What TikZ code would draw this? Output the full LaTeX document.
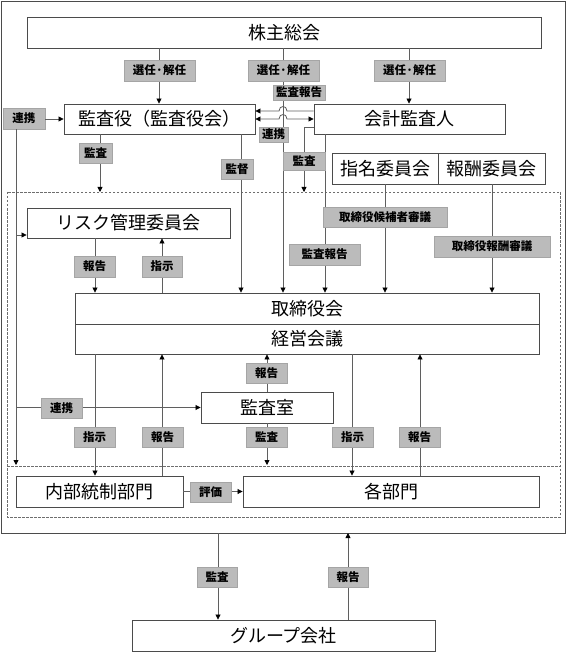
\documentclass[tikz,border=0pt]{standalone}
\usepackage{fontspec}
\setmainfont{Noto Sans CJK JP}
\usetikzlibrary{arrows.meta,calc}
\definecolor{lblfill}{RGB}{187,187,187}
\definecolor{lbldraw}{RGB}{165,165,165}
\definecolor{boxdraw}{RGB}{75,75,75}
\definecolor{linec}{RGB}{95,95,95}
\definecolor{dashc}{RGB}{110,110,110}
\begin{document}
\begin{tikzpicture}[x=1pt,y=-1pt,
  box/.style={draw=boxdraw,line width=0.9pt,fill=white,inner sep=0pt,font=\fontsize{18}{18}\selectfont},
  lbl/.style={fill=lblfill,draw=lbldraw,line width=0.6pt,inner sep=0pt,minimum height=20pt,minimum width=41pt,font=\fontsize{11.5}{12}\selectfont\bfseries},
  conn/.style={draw=linec,line width=0.8pt},
  tip/.tip={Triangle[width=5pt,length=5pt,color=black]},
  arr/.style={conn,-tip},
  arrb/.style={conn,tip-tip},
]
\useasboundingbox (0,0) rectangle (567,652);
% frames
\draw[boxdraw,line width=0.9pt] (1,1) rectangle (565,533);
\draw[dashc,line width=0.6pt,dash pattern=on 2.5pt off 1.5pt] (7,192) rectangle (560,517);
\draw[dashc,line width=0.6pt,dash pattern=on 2.5pt off 1.5pt] (7,466) -- (560,466);
\coordinate (dtop) at (0,192);
\coordinate (dmid) at (0,465);
\coordinate (fbot) at (0,533);
% x helpers
\foreach \xx in {16,95,100,159,162,218,241,267,283,304,325,348,352,385,409,420,492}
  {\coordinate (X\xx) at (\xx,0);}
% boxes
\node[box,minimum width=514pt,minimum height=31pt] (kabu) at (284,32.5) {株主総会};
\node[box,minimum width=191pt,minimum height=30pt] (kansa) at (159.5,119) {監査役（監査役会）};
\node[box,minimum width=191pt,minimum height=30pt] (kaikei) at (409.5,119) {会計監査人};
\node[box,minimum width=106pt,minimum height=31pt] (shimei) at (385,168.5) {指名委員会};
\node[box,minimum width=107pt,minimum height=31pt] (hoshu) at (491.5,168.5) {報酬委員会};
\node[box,minimum width=203pt,minimum height=30pt] (risk) at (128.5,223) {リスク管理委員会};
\node[box,minimum width=464pt,minimum height=31pt] (tori) at (307,308.5) {取締役会};
\node[box,minimum width=464pt,minimum height=30pt] (keiei) at (307,339) {経営会議};
\node[box,minimum width=132pt,minimum height=31pt] (shitsu) at (267,407.5) {監査室};
\node[box,minimum width=167pt,minimum height=31pt] (naibu) at (99.5,491.5) {内部統制部門};
\node[box,minimum width=296pt,minimum height=31pt] (kakubu) at (391,491.5) {各部門};
\node[box,minimum width=303pt,minimum height=31pt] (group) at (283.5,635.5) {グループ会社};
\node[lbl,minimum width=42pt,minimum height=21pt] (lnkA) at (24,118.5) {連携};
% connectors
\draw[arr] (X159 |- kabu.south) -- (X159 |- kansa.north);
\draw[arr] (X283 |- kabu.south) -- (X283 |- tori.north);
\draw[arr] (X409 |- kabu.south) -- (X409 |- kaikei.north);
\draw[arr] ([yshift=8pt]kaikei.west) -- (287,111) .. controls (287,105) and (279,105) .. (279,111) -- ([yshift=8pt]kansa.east);
\draw[arrb] (kansa.east) -- (279,119) .. controls (279,113) and (287,113) .. (287,119) -- (kaikei.west);
\draw[arr] (lnkA.east |- kansa.west) -- (kansa.west);
\draw[arr] (X16 |- lnkA.south) -- (X16 |- dmid);
\draw[arr] (X16 |- risk.west) ++(0,12) -- ([yshift=-12pt]risk.west);
\draw[arr] (X16 |- shitsu.west) -- (shitsu.west);
\draw[arr] (X100 |- kansa.south) -- (X100 |- dtop);
\draw[arr] (X241 |- kansa.south) -- (X241 |- tori.north);
\draw[arr] ([yshift=-8pt]kaikei.west) -| (X304 |- dtop);
\draw[arr] (X325 |- kaikei.south) -- (X325 |- tori.north);
\draw[arr] (X385 |- shimei.south) -- (X385 |- tori.north);
\draw[arr] (X492 |- hoshu.south) -- (X492 |- tori.north);
\draw[arr] (X95 |- risk.south) -- (X95 |- tori.north);
\draw[arr] (X162 |- tori.north) -- (X162 |- risk.south);
\draw[arr] (X95 |- keiei.south) -- (X95 |- naibu.north);
\draw[arr] (X162 |- naibu.north) -- (X162 |- keiei.south);
\draw[arr] (X267 |- shitsu.north) -- (X267 |- keiei.south);
\draw[arr] (X267 |- shitsu.south) -- (X267 |- dmid);
\draw[arr] (X352 |- keiei.south) -- (X352 |- kakubu.north);
\draw[arr] (X420 |- kakubu.north) -- (X420 |- keiei.south);
\draw[arr] (naibu.east) -- (kakubu.west);
\draw[arr] (X218 |- fbot) -- (X218 |- group.north);
\draw[arr] (X348 |- group.north) -- (X348 |- fbot);
% labels
\node[lbl,minimum width=71pt,minimum height=21pt] (selA) at (159.5,70.5) {選任·解任};
\node[lbl,minimum width=71pt,minimum height=21pt] (selB) at (283.5,70.5) {選任·解任};
\node[lbl,minimum width=71pt,minimum height=21pt] (selC) at (409.5,70.5) {選任·解任};
\node[lbl,minimum width=52pt,minimum height=15pt] (rptA) at (299,92.5) {監査報告};
\node[lbl,minimum width=29pt,minimum height=15pt] (lnkB) at (273.5,134.5) {連携};
\node[lbl,minimum width=33pt] (audA) at (95.5,153) {監査};
\node[lbl,minimum width=32pt] (supv) at (237,169) {監督};
\node[lbl,minimum width=42pt,minimum height=18pt] (audB) at (304,161) {監査};
\node[lbl,minimum width=71pt,minimum height=21pt] (rptB) at (324.5,254.5) {監査報告};
\node[lbl,minimum width=124pt] (cand) at (385,217) {取締役候補者審議};
\node[lbl,minimum width=116pt,minimum height=21pt] (remu) at (492,246.5) {取締役報酬審議};
\node[lbl,minimum height=21pt] (repA) at (94.5,266.5) {報告};
\node[lbl,minimum width=40pt,minimum height=21pt] (insA) at (162,266.5) {指示};
\node[lbl] (repB) at (266.5,373) {報告};
\node[lbl] (lnkC) at (61.5,408) {連携};
\node[lbl] (insB) at (94.5,437) {指示};
\node[lbl] (repC) at (162.5,437) {報告};
\node[lbl] (audC) at (266.5,437) {監査};
\node[lbl] (insC) at (352.5,437) {指示};
\node[lbl] (repD) at (419.5,437) {報告};
\node[lbl] (eval) at (210.5,492) {評価};
\node[lbl,minimum width=40pt] (audD) at (217,577) {監査};
\node[lbl,minimum width=40pt] (repE) at (348,577) {報告};
\end{tikzpicture}
\end{document}
